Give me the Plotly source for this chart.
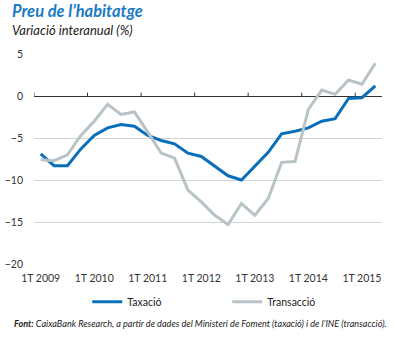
import plotly.graph_objects as go

quarters = list(range(26))  # 1T 2009 .. 2T 2015
tick_vals = [0, 4, 8, 12, 16, 20, 24]
tick_text = ["1T 2009", "1T 2010", "1T 2011", "1T 2012", "1T 2013", "1T 2014", "1T 2015"]

taxacio = [-6.9, -8.3, -8.3, -6.3, -4.7, -3.8, -3.4, -3.6, -4.7, -5.3, -5.7, -6.8, -7.2,
           -8.3, -9.5, -10.0, -8.3, -6.7, -4.5, -4.2, -3.8, -3.0, -2.7, -0.3, -0.2, 1.2]
transaccio = [-7.6, -7.7, -7.0, -4.7, -3.0, -1.0, -2.2, -1.9, -4.3, -6.8, -7.4, -11.2, -12.6,
              -14.2, -15.3, -12.8, -14.2, -12.2, -7.9, -7.8, -1.6, 0.7, 0.2, 1.9, 1.4, 3.9]

BLUE = "#0a6fba"
GRAY = "#b9c3c7"
FONT = "Lato"

fig = go.Figure()
fig.add_trace(go.Scatter(x=quarters, y=taxacio, mode="lines", name="Taxació",
                         line=dict(color=BLUE, width=3)))
fig.add_trace(go.Scatter(x=quarters, y=transaccio, mode="lines", name="Transacció",
                         line=dict(color=GRAY, width=3)))

# small ticks on zero line at year boundaries
for v in tick_vals:
    fig.add_shape(type="line", xref="x", yref="y", x0=v - 0.5, x1=v - 0.5, y0=0, y1=0.4,
                  line=dict(color="#333333", width=1), layer="above")

fig.update_layout(
    width=395, height=338,
    margin=dict(l=34, r=13, t=54, b=74),
    paper_bgcolor="white", plot_bgcolor="white",
    font=dict(family=FONT, size=10, color="#333333"),
    showlegend=True,
    legend=dict(orientation="h", x=0.153, xanchor="left", y=-0.18, yanchor="middle",
                font=dict(size=10.5, color="#222222"), entrywidth=95, entrywidthmode="pixels",
                bgcolor="rgba(0,0,0,0)"),
    xaxis=dict(range=[-0.5, 25.5], tickvals=tick_vals, ticktext=tick_text,
               showgrid=False, zeroline=False, showline=False, ticks="",
               automargin=False, ticklabelstandoff=6,
               tickfont=dict(size=10.5, color="#333333")),
    yaxis=dict(range=[-20, 5], tickvals=[5, 0, -5, -10, -15, -20],
               showgrid=True, gridcolor="#d4d4d4", gridwidth=1,
               zeroline=True, zerolinecolor="#333333", zerolinewidth=1,
               showline=False, ticks="", ticklabelstandoff=10, automargin=False,
               tickfont=dict(size=10.5, color="#333333")),
    annotations=[
        dict(text="<b><i>Preu de l’habitatge</i></b>", xref="paper", yref="paper",
             x=-24 / 349, y=(264 - 11) / 210, xanchor="left", yanchor="middle",
             showarrow=False, font=dict(family=FONT, size=16.5, color="#1a7ac4")),
        dict(text="<i>Variació interanual (%)</i>", xref="paper", yref="paper",
             x=-24 / 349, y=(264 - 30) / 210, xanchor="left", yanchor="middle",
             showarrow=False, font=dict(family=FONT, size=13, color="#222222")),
        dict(text="<b><i>Font:</i></b><i> CaixaBank Research, a partir de dades del Ministeri de Foment (taxació) i de l’INE (transacció).</i>",
             xref="paper", yref="paper", x=-22 / 349, y=(264 - 323) / 210,
             xanchor="left", yanchor="middle", showarrow=False,
             font=dict(family=FONT, size=9.1, color="#222222")),
    ],
)

fig.write_html("out.html")
